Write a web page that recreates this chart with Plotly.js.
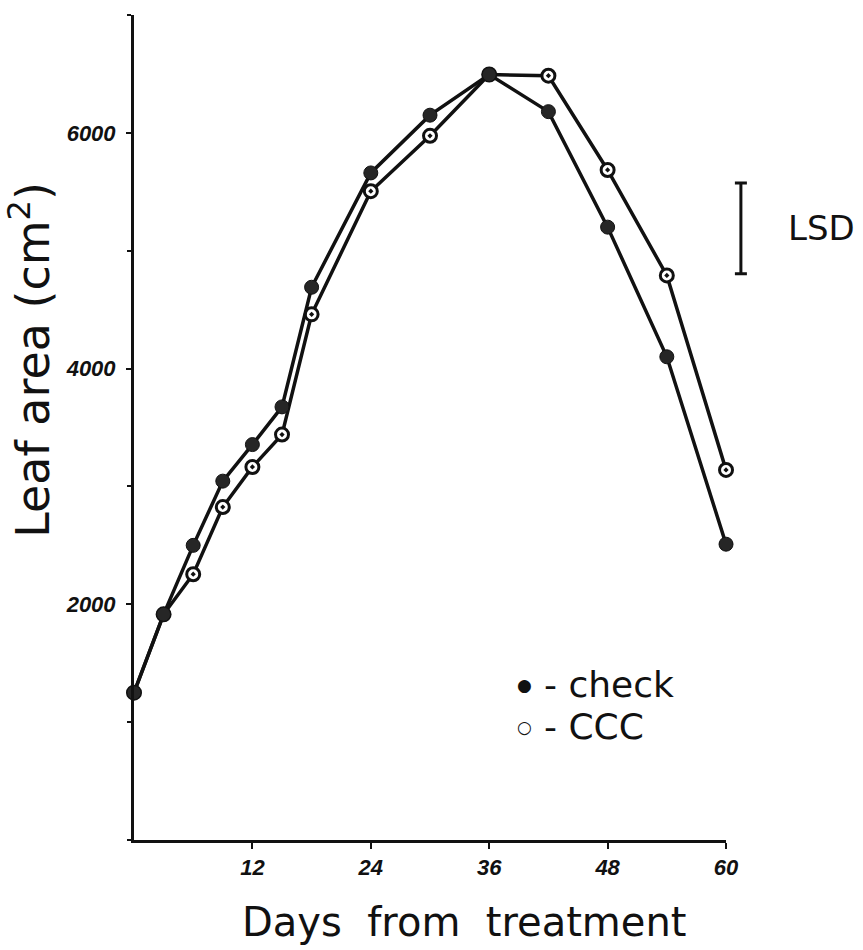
<!DOCTYPE html>
<html>
<head>
<meta charset="utf-8">
<script src="https://cdn.plot.ly/plotly-3.0.1.min.js"></script>
<style>html,body{margin:0;padding:0;background:#fff;}#chart{width:863px;height:950px;}</style>
</head>
<body>
<div id="chart"></div>
<script>
// Data
const days = [0, 3, 6, 9, 12, 15, 18, 24, 30, 36, 42, 48, 54, 60];
const checkArea = [1250, 1915, 2500, 3045, 3355, 3675, 4690, 5660, 6150, 6495, 6180, 5200, 4100, 2510];
const cccArea = [1250, 1915, 2255, 2825, 3165, 3440, 4460, 5505, 5975, 6495, 6485, 5685, 4790, 3140];
const lsdValue = 770;
const lsdCenter = 5190;
const xTicks = [12, 24, 36, 48, 60];
const yTicks = [2000, 4000, 6000];
const seriesNames = ['check', 'CCC'];

const tickFont = {family: 'Liberation Sans, Arial, sans-serif', size: 22, color: '#111', weight: 'bold', style: 'italic'};
const textFont = 'DejaVu Sans, sans-serif';

const traces = [
  {
    x: days, y: cccArea, name: seriesNames[1], mode: 'lines+markers', xaxis: 'x', yaxis: 'y',
    line: {color: '#111', width: 3.5},
    marker: {symbol: 'circle-dot', size: 13, color: '#fff', line: {color: '#111', width: 3}},
    showlegend: false, cliponaxis: false
  },
  {
    x: days, y: checkArea, name: seriesNames[0], mode: 'lines+markers', xaxis: 'x', yaxis: 'y',
    line: {color: '#111', width: 3.5},
    marker: {symbol: 'circle', size: 14, color: '#262626', line: {color: '#111', width: 1}},
    showlegend: false, cliponaxis: false
  },
  {
    x: [0.5], y: [lsdCenter], mode: 'markers', xaxis: 'x2', yaxis: 'y',
    marker: {size: 1, color: 'rgba(0,0,0,0)'},
    error_y: {type: 'data', array: [lsdValue / 2], symmetric: true, color: '#111', thickness: 3, width: 6},
    showlegend: false, hoverinfo: 'skip', cliponaxis: false
  }
];

const layout = {
  width: 863, height: 950,
  margin: {l: 134, r: 0, t: 15, b: 110},
  paper_bgcolor: '#fff', plot_bgcolor: '#fff',
  showlegend: false,
  xaxis: {
    domain: [0, 0.8121], range: [0, 60], anchor: 'y',
    showline: true, linecolor: '#111', linewidth: 3,
    showgrid: false, zeroline: false,
    tickvals: xTicks, ticks: 'outside', ticklen: 6, tickwidth: 2, tickcolor: '#111',
    tickfont: tickFont, ticklabelstandoff: 0
  },
  xaxis2: {
    domain: [0.815, 0.850], range: [0, 1], anchor: 'y', visible: false
  },
  yaxis: {
    range: [0, 7000], anchor: 'x',
    showline: true, linecolor: '#111', linewidth: 3,
    showgrid: false, zeroline: false,
    tickvals: yTicks, ticks: 'outside', ticklen: 5, tickwidth: 2, tickcolor: '#111',
    minor: {dtick: 1000, tick0: 0, ticks: 'outside', ticklen: 4, tickwidth: 2, tickcolor: '#111'},
    tickfont: tickFont, ticklabelstandoff: 6
  },
  annotations: [
    {xref: 'paper', yref: 'paper', x: 0.4527, y: -0.0994, xanchor: 'center', yanchor: 'middle', showarrow: false,
     text: 'Days&nbsp;&nbsp;from&nbsp;&nbsp;treatment', font: {family: textFont, size: 40, color: '#111'}},
    {xref: 'paper', yref: 'paper', x: -0.1427, y: 0.582, xanchor: 'center', yanchor: 'middle', showarrow: false,
     textangle: -90, text: 'Leaf area (cm<sup>2</sup>)', font: {family: textFont, size: 46, color: '#111'}},
    {xref: 'paper', yref: 'y', x: 0.895, y: lsdCenter, xanchor: 'left', yanchor: 'middle', showarrow: false,
     text: 'LSD', font: {family: textFont, size: 34, color: '#111'}},
    {xref: 'paper', yref: 'paper', x: 0.536, y: 0.188, xanchor: 'center', yanchor: 'middle', showarrow: false,
     text: '\u25CF', font: {family: textFont, size: 17, color: '#111'}},
    {xref: 'paper', yref: 'paper', x: 0.560, y: 0.188, xanchor: 'left', yanchor: 'middle', showarrow: false,
     text: '- ' + seriesNames[0], font: {family: textFont, size: 36, color: '#111'}},
    {xref: 'paper', yref: 'paper', x: 0.536, y: 0.137, xanchor: 'center', yanchor: 'middle', showarrow: false,
     text: '\u25CB', font: {family: textFont, size: 17, color: '#111', weight: 'bold'}},
    {xref: 'paper', yref: 'paper', x: 0.560, y: 0.137, xanchor: 'left', yanchor: 'middle', showarrow: false,
     text: '- ' + seriesNames[1], font: {family: textFont, size: 36, color: '#111'}}
  ]
};

Plotly.newPlot('chart', traces, layout, {displayModeBar: false, staticPlot: true});
</script>
</body>
</html>
